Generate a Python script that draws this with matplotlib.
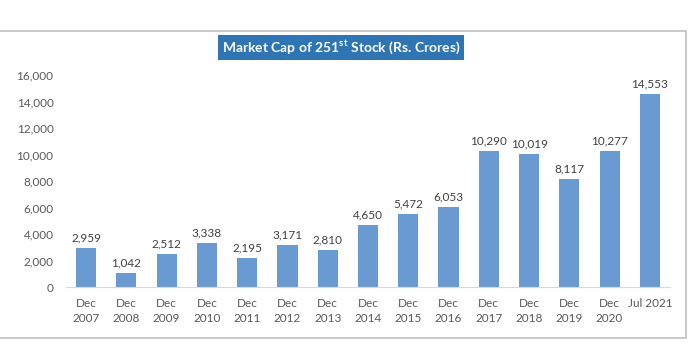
import matplotlib.pyplot as plt
from matplotlib.patches import Rectangle

# data
periods = ['Dec\n2007', 'Dec\n2008', 'Dec\n2009', 'Dec\n2010', 'Dec\n2011',
           'Dec\n2012', 'Dec\n2013', 'Dec\n2014', 'Dec\n2015', 'Dec\n2016',
           'Dec\n2017', 'Dec\n2018', 'Dec\n2019', 'Dec\n2020', 'Jul 2021']
market_cap = [2959, 1042, 2512, 3338, 2195, 3171, 2810, 4650, 5472, 6053,
              10290, 10019, 8117, 10277, 14553]
y_ticks = list(range(0, 16001, 2000))

plt.rcParams['font.family'] = ['Lato', 'DejaVu Sans']

fig = plt.figure(figsize=(6.9, 3.56), dpi=100)
W, H = 690., 356.

# outer chart frame
fig.patches.append(Rectangle((-2 / W, 1 - 338 / H), 688 / W, 307 / H,
                             transform=fig.transFigure, fill=False,
                             edgecolor='#BFBFBF', linewidth=1.2))

ax = fig.add_axes([66 / W, 1 - 287 / H, 604 / W, 212 / H])
x = range(len(periods))
bars = ax.bar(x, market_cap, width=0.5, color='#6A9AD2')
for b, v in zip(bars, market_cap):
    ax.text(b.get_x() + b.get_width() / 2, v + 350, '{:,}'.format(v),
            ha='center', va='bottom', fontsize=8.5, color='#404040')

ax.set_xlim(-0.5, len(periods) - 0.5)
ax.set_ylim(0, 16000)
ax.set_yticks(y_ticks)
ax.set_yticklabels(['{:,}'.format(t) for t in y_ticks])
ax.set_xticks(list(x))
ax.set_xticklabels(periods, linespacing=1.4)
ax.tick_params(axis='both', length=0, labelsize=8.5, colors='#595959')
ax.tick_params(axis='x', pad=8)
ax.tick_params(axis='y', pad=9)
for s in ['top', 'right', 'left']:
    ax.spines[s].set_visible(False)
ax.spines['bottom'].set_color('#D9D9D9')

fig.text(341 / W, 1 - 47.5 / H, r'Market Cap of 251$^{\mathregular{st}}$ Stock (Rs. Crores)',
         ha='center', va='center', fontsize=10, fontweight='bold', color='white',
         bbox=dict(boxstyle='square,pad=0.3', facecolor='#2E75B6', edgecolor='none'))

fig.savefig('out.png', dpi=100)
